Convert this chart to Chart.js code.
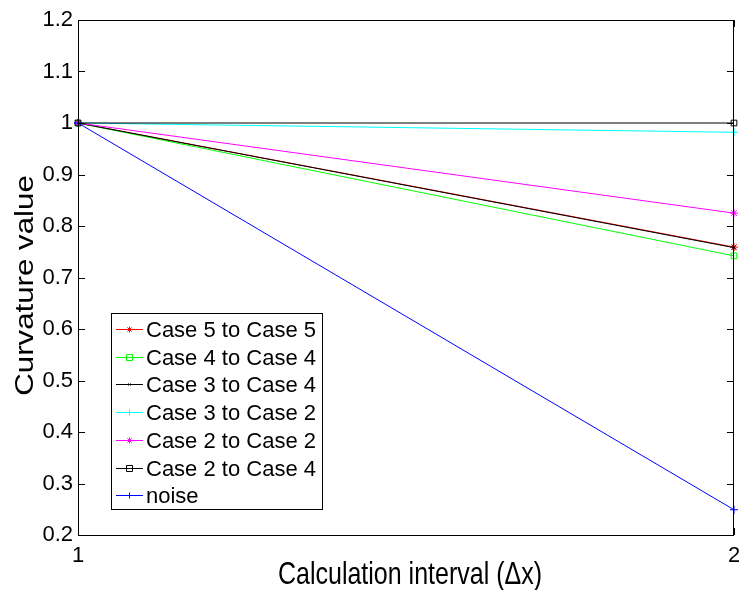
<!DOCTYPE html>
<html>
<head>
<meta charset="utf-8">
<script src="https://cdn.jsdelivr.net/npm/chart.js@4/dist/chart.umd.min.js"></script>
<style>
  html, body { margin: 0; padding: 0; background: #fff; }
  #wrap { width: 739px; height: 590px; }
</style>
</head>
<body>
<div id="wrap"><canvas id="curv" width="739" height="590"></canvas></div>
<script>
// данные
const xValues = [1, 2];
const labels = ["Case 5 to Case 5", "Case 4 to Case 4", "Case 3 to Case 4", "Case 3 to Case 2", "Case 2 to Case 2", "Case 2 to Case 4", "noise"];
const case5to5 = [1, 0.759];
const case4to4 = [1, 0.742];
const case3to4 = [1, 0.758];
const case3to2 = [1, 0.982];
const case2to2 = [1, 0.825];
const case2to4 = [1, 1.0];
const noise = [1, 0.249];
const yTicks = [0.2, 0.3, 0.4, 0.5, 0.6, 0.7, 0.8, 0.9, 1, 1.1, 1.2];
const xTitle = 'Calculation interval (\u0394x)';
const yTitle = 'Curvature value';

const seriesList = [case5to5, case4to4, case3to4, case3to2, case2to2, case2to4, noise];
const colors = ['#ff0000', '#00ff00', '#000000', '#00ffff', '#ff00ff', '#000000', '#0000ff'];
const markers = ['star', 'rect', 'crossRot', 'cross', 'star', 'rect', 'cross'];
const markerSize = [4, 4, 2.5, 4, 4, 4, 4];

const FONT = 'Liberation Sans, Arial, sans-serif';

const datasets = seriesList.map((s, i) => ({
    label: labels[i],
    data: s.map((v, k) => ({ x: xValues[k], y: v })),
    borderColor: colors[i],
    backgroundColor: 'rgba(0,0,0,0)',
    borderWidth: 1,
    pointStyle: markers[i],
    pointRadius: markerSize[i],
    pointBorderColor: colors[i],
    pointBorderWidth: 1,
    pointBackgroundColor: 'rgba(0,0,0,0)',
    order: seriesList.length - i,
    clip: false
}));

// рамка и засечки внутрь, как в MATLAB
const boxPlugin = {
    id: 'boxTicks',
    afterDatasetsDraw(chart) {
        const ctx = chart.ctx, a = chart.chartArea;
        const xs = chart.scales.x, ys = chart.scales.y;
        const len = 7;
        ctx.save();
        ctx.strokeStyle = '#000';
        ctx.lineWidth = 1;
        ctx.beginPath();
        yTicks.forEach(t => {
            const py = Math.round(ys.getPixelForValue(t)) + 0.5;
            ctx.moveTo(a.left, py); ctx.lineTo(a.left + len, py);
            ctx.moveTo(a.right, py); ctx.lineTo(a.right - len, py);
        });
        xValues.forEach(t => {
            const px = Math.round(xs.getPixelForValue(t)) + 0.5;
            ctx.moveTo(px, a.bottom); ctx.lineTo(px, a.bottom - len);
            ctx.moveTo(px, a.top); ctx.lineTo(px, a.top + len);
        });
        ctx.stroke();
        ctx.strokeRect(Math.round(a.left) + 0.5, Math.round(a.top) + 0.5,
            Math.round(a.right - a.left) - 1, Math.round(a.bottom - a.top));
        ctx.restore();
    }
};

// подписи осей (в оригинале растянуты по вертикали)
const titlePlugin = {
    id: 'axisTitles',
    afterDraw(chart) {
        const ctx = chart.ctx, a = chart.chartArea;
        ctx.save();
        ctx.fillStyle = '#000';
        ctx.font = '25px ' + FONT;
        ctx.textAlign = 'center';
        ctx.textBaseline = 'alphabetic';
        ctx.save();
        ctx.translate((a.left + a.right) / 2 + 4, 584);
        ctx.scale(1, 1.25);
        ctx.fillText(xTitle, 0, 0);
        ctx.restore();
        ctx.translate(33, (a.top + a.bottom) / 2 + 8);
        ctx.rotate(-Math.PI / 2);
        ctx.scale(1.25, 1);
        ctx.fillText(yTitle, 0, 0);
        ctx.restore();
    }
};

function drawMarker(ctx, style, x, y, r) {
    ctx.beginPath();
    if (style === 'rect') {
        ctx.rect(x - r, y - r, 2 * r, 2 * r);
    } else {
        if (style === 'cross' || style === 'star') {
            ctx.moveTo(x - r, y); ctx.lineTo(x + r, y);
            ctx.moveTo(x, y - r); ctx.lineTo(x, y + r);
        }
        if (style === 'crossRot' || style === 'star') {
            const d = r * 0.7;
            ctx.moveTo(x - d, y - d); ctx.lineTo(x + d, y + d);
            ctx.moveTo(x - d, y + d); ctx.lineTo(x + d, y - d);
        }
    }
    ctx.stroke();
}

// легенда внутри области графика
const legendPlugin = {
    id: 'boxLegend',
    afterDraw(chart) {
        const ctx = chart.ctx, a = chart.chartArea;
        const left = a.left + 33, right = a.left + 244;
        const bottom = a.bottom - 26, rowH = 27.7;
        const top = bottom - 196;
        ctx.save();
        ctx.fillStyle = '#fff';
        ctx.fillRect(left, top, right - left, bottom - top);
        ctx.strokeStyle = '#000';
        ctx.lineWidth = 1;
        ctx.strokeRect(Math.round(left) + 0.5, Math.round(top) + 0.5, Math.round(right - left), Math.round(bottom - top));
        ctx.font = '22px ' + FONT;
        ctx.textBaseline = 'middle';
        labels.forEach((lab, i) => {
            const y = Math.round(top + 16 + rowH * i) + 0.5;
            ctx.strokeStyle = colors[i];
            ctx.beginPath();
            ctx.moveTo(left + 5, y); ctx.lineTo(left + 32, y);
            ctx.stroke();
            drawMarker(ctx, markers[i], left + 18.5, y, markerSize[i] - 1);
            ctx.fillStyle = '#000';
            ctx.fillText(lab, left + 35, y + 1);
        });
        ctx.restore();
    }
};

new Chart(document.getElementById('curv').getContext('2d'), {
    type: 'line',
    data: { datasets: datasets },
    plugins: [boxPlugin, legendPlugin, titlePlugin],
    options: {
        responsive: false,
        animation: false,
        layout: { padding: { top: 20, right: 2, left: 0, bottom: 0 } },
        plugins: {
            legend: { display: false },
            tooltip: { enabled: false }
        },
        scales: {
            x: {
                type: 'linear',
                min: 1,
                max: 2,
                afterBuildTicks: s => { s.ticks = xValues.map(v => ({ value: v })); },
                afterFit: s => { s.height = 55; s.paddingLeft = 0; s.paddingRight = 0; },
                grid: { display: false, drawTicks: false },
                border: { display: false },
                ticks: {
                    color: '#000',
                    font: { family: FONT, size: 22 },
                    padding: 8,
                    maxRotation: 0,
                    callback: v => String(v)
                },
                title: { display: false }
            },
            y: {
                type: 'linear',
                min: 0.2,
                max: 1.2,
                afterBuildTicks: s => { s.ticks = yTicks.map(v => ({ value: v })); },
                afterFit: s => { s.width = 78; s.paddingTop = 0; s.paddingBottom = 0; },
                grid: { display: false, drawTicks: false },
                border: { display: false },
                ticks: {
                    color: '#000',
                    font: { family: FONT, size: 22 },
                    padding: 5,
                    callback: v => String(Number(v.toFixed(1)))
                },
                title: { display: false }
            }
        }
    }
});
</script>
</body>
</html>
